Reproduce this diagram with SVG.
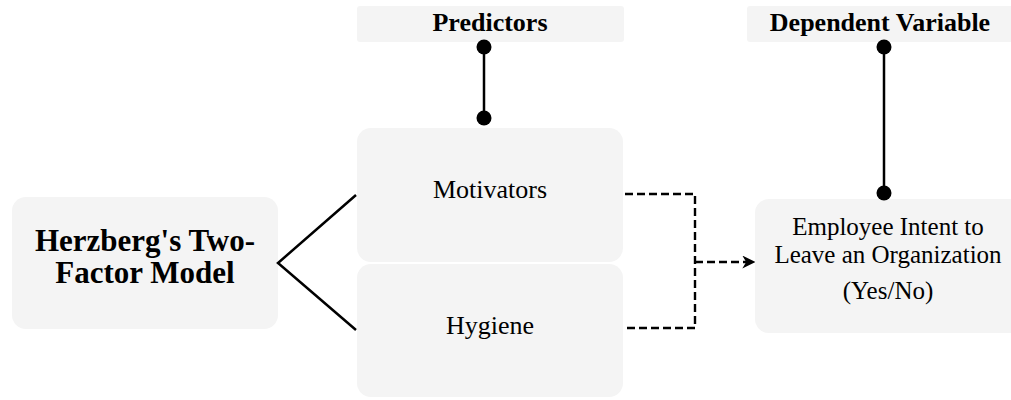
<svg xmlns="http://www.w3.org/2000/svg" width="1011" height="400" viewBox="0 0 1011 400">
<defs>
<style>
.box{fill:#f4f4f4;}
.t{font-family:'Liberation Serif','Times New Roman',serif;fill:#000;text-anchor:middle;}
.hdr{font-size:26px;font-weight:bold;}
.lbl{font-size:26px;}
.emp{font-size:25px;}
.big{font-size:31px;font-weight:bold;}
.solid{stroke:#000;stroke-width:2.5;fill:none;}
.dash{stroke:#000;stroke-width:2.4;fill:none;stroke-dasharray:8,4;}
</style>
<marker id="arr" viewBox="0 0 10 10" refX="9" refY="5" markerWidth="13" markerHeight="13" markerUnits="userSpaceOnUse" orient="auto">
<path d="M0,0 L10,5 L0,10 L3,5 Z" fill="#000"/>
</marker>
</defs>
<rect width="1011" height="400" fill="#fff"/>
<g id="predictors">
<rect class="box" x="357" y="6" width="267" height="36" rx="3"/>
<text class="t hdr" x="490" y="31">Predictors</text>
</g>
<g id="dependent">
<rect class="box" x="747" y="6" width="270" height="36" rx="3"/>
<text class="t hdr" x="880" y="31">Dependent Variable</text>
</g>
<g id="herzberg">
<rect class="box" x="12" y="197" width="266" height="132" rx="14"/>
<text class="t big" x="145" y="251">Herzberg's Two-</text>
<text class="t big" x="145" y="283">Factor Model</text>
</g>
<g id="motivators">
<rect class="box" x="357" y="128" width="266" height="134" rx="14"/>
<text class="t lbl" x="490" y="198">Motivators</text>
</g>
<g id="hygiene">
<rect class="box" x="357" y="264" width="266" height="133" rx="14"/>
<text class="t lbl" x="490" y="334">Hygiene</text>
</g>
<g id="employee">
<rect class="box" x="755" y="199" width="270" height="134" rx="14"/>
<text class="t emp" x="888" y="235">Employee Intent to</text>
<text class="t emp" x="888" y="263">Leave an Organization</text>
<text class="t emp" x="888" y="299">(Yes/No)</text>
</g>
<g id="connectors">
<line class="solid" x1="484" y1="47" x2="484" y2="118"/>
<circle cx="484" cy="47" r="7.5" fill="#000"/>
<circle cx="484" cy="118" r="7.5" fill="#000"/>
<line class="solid" x1="884" y1="47" x2="884" y2="193"/>
<circle cx="884" cy="47" r="7.5" fill="#000"/>
<circle cx="884" cy="193" r="7.5" fill="#000"/>
<polyline class="solid" points="356,195 278,263 356,330"/>
<polyline class="dash" points="625,194 695,194 695,328 625,328"/>
<line class="dash" x1="695" y1="262" x2="754" y2="262" marker-end="url(#arr)"/>
</g>
</svg>
